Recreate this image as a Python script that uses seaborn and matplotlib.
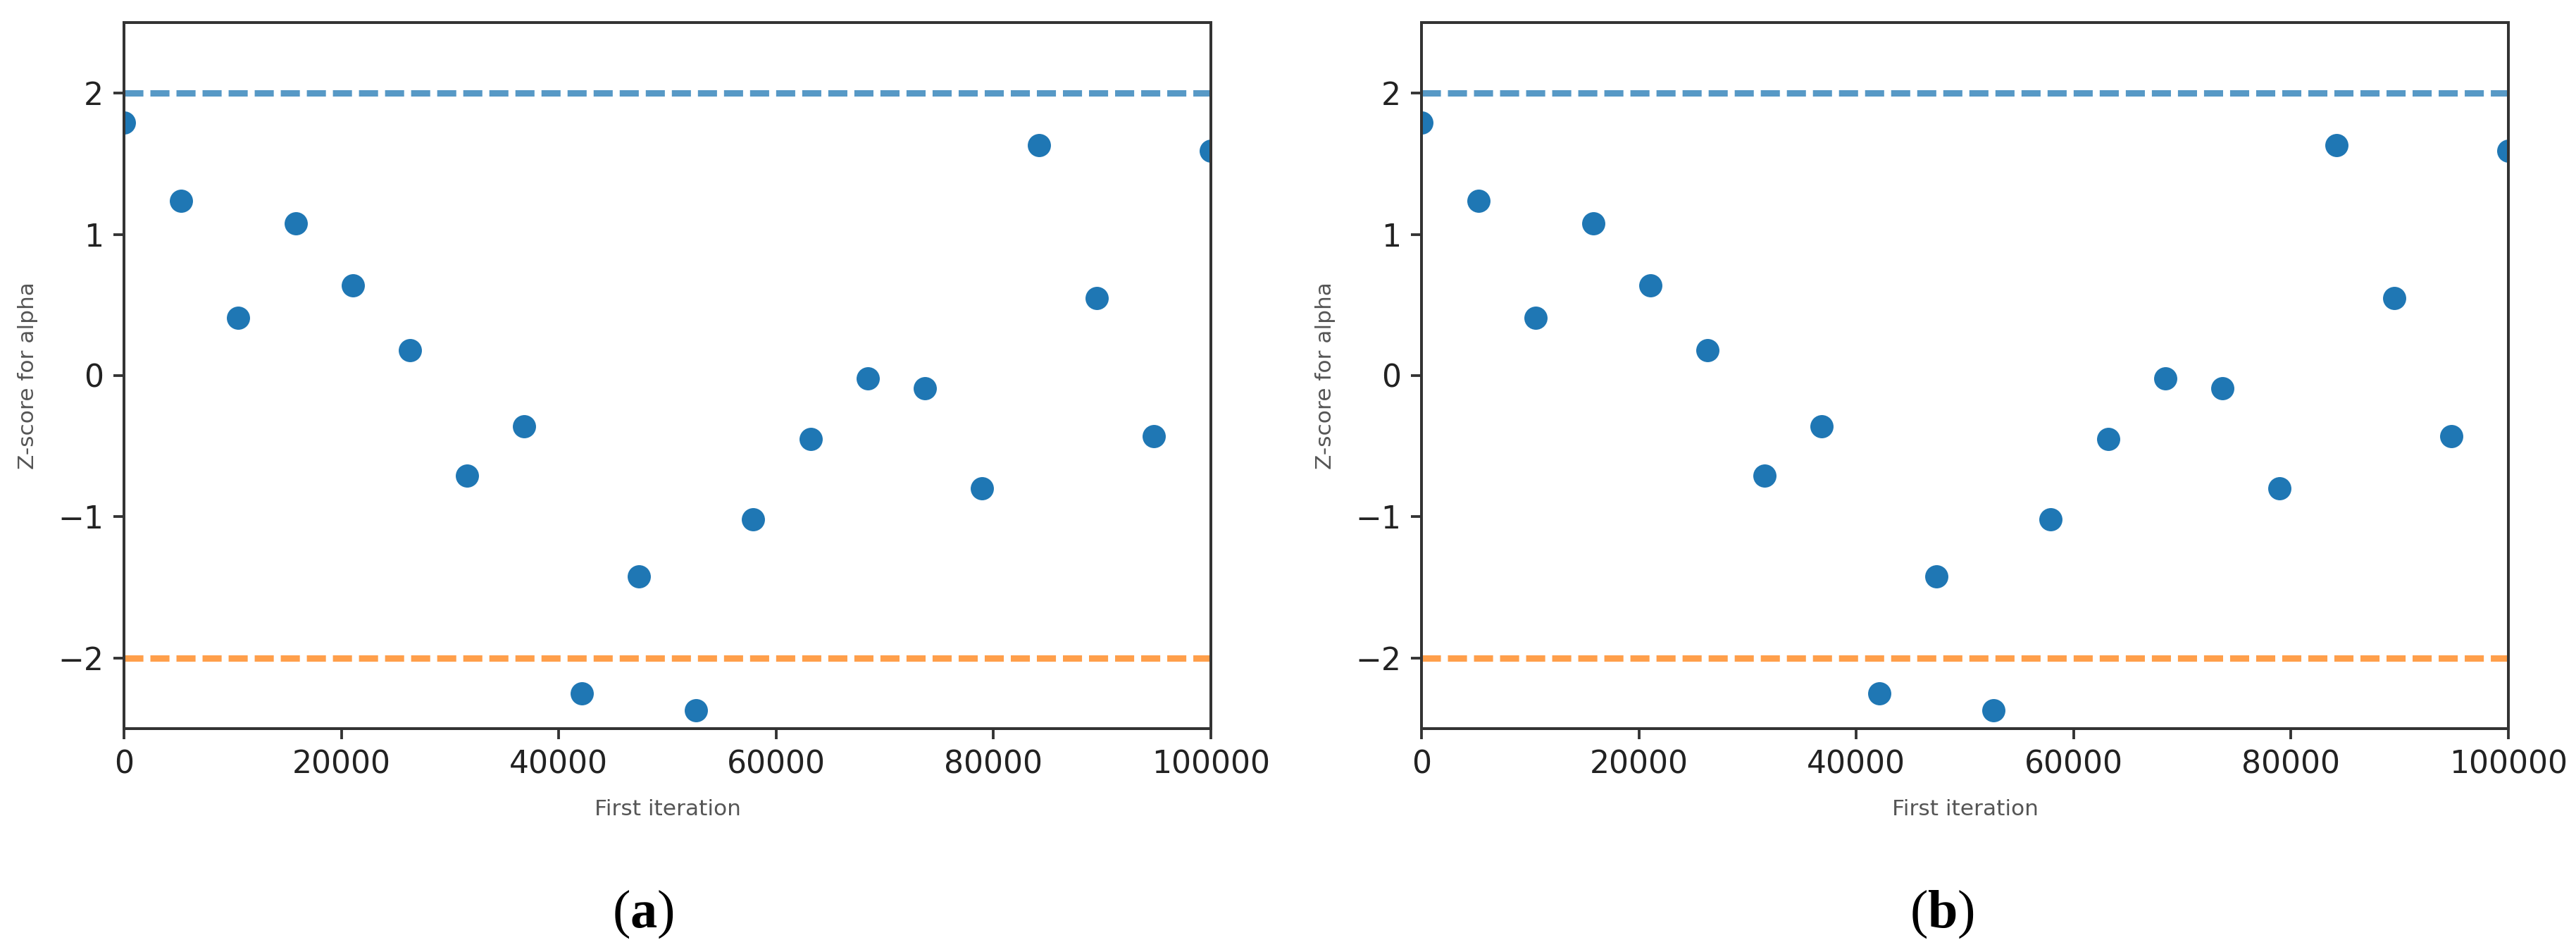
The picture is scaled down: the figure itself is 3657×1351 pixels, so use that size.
import numpy as np
import pandas as pd
import matplotlib
matplotlib.use("Agg")
import matplotlib.pyplot as plt
import seaborn as sns

# ─────────────────────────────────────────────
# DATA
# ─────────────────────────────────────────────
first_iteration = [0, 5263, 10526, 15789, 21053, 26316, 31579, 36842, 42105, 47368,
                   52632, 57895, 63158, 68421, 73684, 78947, 84211, 89474, 94737, 100000]
z_score = [1.79, 1.24, 0.41, 1.08, 0.64, 0.18, -0.71, -0.36, -2.25, -1.42,
           -2.37, -1.02, -0.45, -0.02, -0.09, -0.80, 1.63, 0.55, -0.43, 1.59]

upper_bound = 2.0
lower_bound = -2.0

x_ticks = [0, 20000, 40000, 60000, 80000, 100000]
x_tick_labels = ["0", "20000", "40000", "60000", "80000", "100000"]
y_ticks = [-2, -1, 0, 1, 2]
panel_labels = ["a", "b"]

df = pd.DataFrame({"first_iteration": first_iteration, "z_score": z_score})

# ─────────────────────────────────────────────
# STYLE
# ─────────────────────────────────────────────
sns.set_theme(style="ticks")
plt.rcParams["font.family"] = ["DejaVu Sans"]
plt.rcParams["mathtext.fontset"] = "custom"
plt.rcParams["mathtext.rm"] = "Liberation Serif"
plt.rcParams["mathtext.bf"] = "Liberation Serif:bold"

DPI = 250
fig = plt.figure(figsize=(3657 / DPI, 1351 / DPI), dpi=DPI)
fig.patch.set_facecolor("white")

W, H = 3657, 1351
ax_top, ax_bottom = 32, 1034
ax_lefts = [176, 2018]
ax_width = 1543
caption_x = [913, 2757]

for left, label, cx in zip(ax_lefts, panel_labels, caption_x):
    ax = fig.add_axes([left / W, 1 - ax_bottom / H, ax_width / W, (ax_bottom - ax_top) / H])
    ax.set_facecolor("white")

    ax.axhline(upper_bound, color="#1f77b4", alpha=0.75, lw=2.6, ls=(0, (3.0, 1.1)), zorder=1)
    ax.axhline(lower_bound, color="#ff7f0e", alpha=0.75, lw=2.6, ls=(0, (3.0, 1.1)), zorder=1)

    sns.scatterplot(data=df, x="first_iteration", y="z_score", ax=ax,
                    color="#1f77b4", s=90, linewidth=0, zorder=2)

    ax.set_xlim(0, 100000)
    ax.set_ylim(-2.5, 2.5)
    ax.set_xticks(x_ticks)
    ax.set_xticklabels(x_tick_labels)
    ax.set_yticks(y_ticks)
    ax.tick_params(axis="both", labelsize=12.7, length=4.4, width=1.1,
                   color="#333333", labelcolor="#222222", pad=4)

    ax.set_xlabel("First iteration", fontsize=9, color="#555555", labelpad=8)
    ax.set_ylabel("Z-score for alpha", fontsize=9, color="#555555", labelpad=8)

    for sp in ax.spines.values():
        sp.set_visible(True)
        sp.set_linewidth(1.15)
        sp.set_color("#333333")

    fig.text(cx / W, 1 - 1297 / H, r"$\mathrm{(}\mathbf{" + label + r"}\mathrm{)}$",
             ha="center", va="center", fontsize=22, color="black")

fig.savefig("out.png", dpi=DPI, facecolor="white")
plt.close(fig)
